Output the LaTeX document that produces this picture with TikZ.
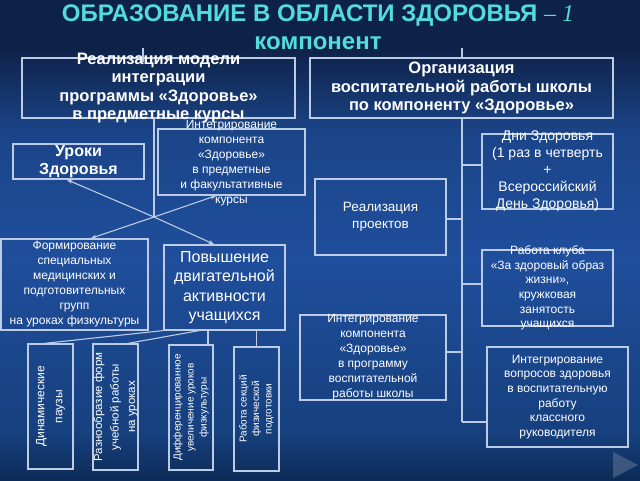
\documentclass[tikz,border=0pt]{standalone}
\usepackage{fontspec}
\setmainfont{Liberation Sans}
\newfontfamily\serifItalic{Liberation Serif}
\usetikzlibrary{arrows.meta}

\definecolor{bgTop}{HTML}{0E2248}
\definecolor{bgUpper}{HTML}{1B4589}
\definecolor{bgMid}{HTML}{1F4E9C}
\definecolor{bgLow}{HTML}{16407E}
\definecolor{bgBottom}{HTML}{0D2B58}
\definecolor{lineBlue}{HTML}{BCCCE4}
\definecolor{titleCyan}{HTML}{52DCDC}
\definecolor{navGray}{HTML}{5D7090}

\pgfdeclareverticalshading{bgShade}{100bp}{color(0bp)=(bgBottom); color(25bp)=(bgBottom);
  color(30bp)=(bgLow); color(48bp)=(bgMid); color(61bp)=(bgUpper); color(70bp)=(bgTop);
  color(75bp)=(bgTop); color(100bp)=(bgTop)}

\begin{document}
\begin{tikzpicture}
[x=1pt,y=-1pt,
  boxDecorate/.style={draw=lineBlue,line width=1.1pt,inner sep=0pt},
  lineDecorate/.style={draw=lineBlue,line width=1.1pt},
  arrowDecorate/.style={lineDecorate,-{Stealth[length=6pt,width=4pt]}},
  boldText/.style={text=white,align=center,font=\bfseries\fontsize{16.5}{18.5}\selectfont},
  plainText/.style={text=white,align=center,font=\fontsize{12}{15}\selectfont},
  titleText/.style={text=titleCyan,align=center,font=\bfseries\fontsize{24}{27.5}\selectfont}]
%% background
\shade[shading=bgShade] (0,0) rectangle (640,480);
\useasboundingbox (0,0) rectangle (640,480);
\fill[navGray,opacity=0.6] (613,452) -- (638,465) -- (613,478) -- cycle;

%% title
\node[titleText] (title) at (318,27)
  {ОБРАЗОВАНИЕ В ОБЛАСТИ ЗДОРОВЬЯ {\serifItalic\mdseries\itshape – 1}\\компонент};

%% left part
\node[boxDecorate,minimum width=273pt,minimum height=60pt,
  label={[boldText]center:{Реализация модели\\интеграции\\программы «Здоровье»\\в предметные курсы}}]
  (modelBox) at (158.5,88) {};
\node[boxDecorate,minimum width=147pt,minimum height=66pt,
  label={[plainText,yshift=-1.5pt]center:{Интегрирование\\компонента\\«Здоровье»\\в предметные\\и факультативные\\курсы}}]
  (subjBox) at (231.5,162) {};
\node[boxDecorate,minimum width=131pt,minimum height=35pt,
  label={[boldText,font=\bfseries\fontsize{16}{17.5}\selectfont]center:{Уроки\\Здоровья}}]
  (lessonBox) at (78.5,161.5) {};
\node[boxDecorate,minimum width=147pt,minimum height=91pt,
  label={[plainText]center:{Формирование\\специальных\\медицинских и\\подготовительных\\групп\\на уроках физкультуры}}]
  (groupBox) at (74.5,284.5) {};
\node[boxDecorate,minimum width=121pt,minimum height=85pt,
  label={[plainText,font=\fontsize{16}{19.5}\selectfont]center:{Повышение\\двигательной\\активности\\учащихся}}]
  (motionBox) at (224.5,287.5) {};

%% bottom row
\node[boxDecorate,minimum width=45pt,minimum height=125pt,
  label={[plainText,rotate=90,font=\fontsize{12}{18}\selectfont]center:{Динамические\\паузы}}]
  (pauseBox) at (50.5,406.5) {};
\node[boxDecorate,minimum width=45pt,minimum height=126pt,
  label={[plainText,rotate=90,font=\fontsize{11.5}{16.5}\selectfont]center:{Разнообразие форм\\учебной работы\\на уроках}}]
  (formBox) at (115.5,407) {};
\node[boxDecorate,minimum width=44pt,minimum height=125pt,
  label={[plainText,rotate=90,font=\fontsize{10}{13}\selectfont]center:{Дифференцированное\\увеличение уроков\\физкультуры}}]
  (diffBox) at (191,407.5) {};
\node[boxDecorate,minimum width=45pt,minimum height=124pt,
  label={[plainText,rotate=90,font=\fontsize{10}{12.5}\selectfont]center:{Работа секций\\физической\\подготовки}}]
  (sectionBox) at (256.5,409) {};

%% right part
\node[boxDecorate,minimum width=303pt,minimum height=60pt,
  label={[boldText]center:{Организация\\воспитательной работы школы\\по компоненту «Здоровье»}}]
  (orgBox) at (461.5,88) {};
\node[boxDecorate,minimum width=131pt,minimum height=76pt,
  label={[plainText,font=\fontsize{13.5}{17}\selectfont]center:{Реализация\\проектов}}]
  (projectBox) at (380.5,217) {};
\node[boxDecorate,minimum width=146pt,minimum height=85pt,
  label={[plainText]center:{Интегрирование\\компонента\\«Здоровье»\\в программу\\воспитательной\\работы школы}}]
  (programBox) at (373,357.5) {};
\node[boxDecorate,minimum width=131pt,minimum height=75pt,
  label={[plainText,font=\fontsize{14}{17}\selectfont]center:{Дни Здоровья\\(1 раз в четверть\\+\\Всероссийский\\День Здоровья)}}]
  (daysBox) at (547.5,171.5) {};
\node[boxDecorate,minimum width=131pt,minimum height=76pt,
  label={[plainText,font=\fontsize{12}{14.6}\selectfont]center:{Работа клуба\\«За здоровый образ\\жизни»,\\кружковая\\занятость\\учащихся}}]
  (clubBox) at (547.5,288) {};
\node[boxDecorate,minimum width=141pt,minimum height=100pt,
  label={[plainText,font=\fontsize{12}{14.6}\selectfont]center:{Интегрирование\\вопросов здоровья\\в воспитательную\\работу\\классного\\руководителя}}]
  (tutorBox) at (557.5,397) {};

%% connectors
\coordinate (modelTick) at (143,48);
\coordinate (orgTick) at (462,48);
\coordinate (hub) at (154,217);
\coordinate (trunkEnd) at (462,422);
\draw[lineDecorate] (modelTick) -- ++(0,14);
\draw[lineDecorate] (orgTick) -- (orgTick |- orgBox.north);
\draw[lineDecorate] (hub |- modelBox.south) -- (hub);
\draw[arrowDecorate] (hub) -- ([xshift=-12pt]lessonBox.south);
\draw[arrowDecorate] (hub) -- ([xshift=-10pt]motionBox.north);
\draw[arrowDecorate] (hub) -- ([xshift=-15pt]subjBox.south);
\draw[arrowDecorate] (hub) -- ([xshift=16pt]groupBox.north);

\draw[lineDecorate] (motionBox.south west) -- ([xshift=-7pt]pauseBox.north);
\draw[lineDecorate] ([xshift=-25pt]motionBox.south) -- ([xshift=12pt]formBox.north);
\draw[lineDecorate] ([xshift=17pt]diffBox.north) -- ([xshift=17pt]diffBox.north |- motionBox.south);
\draw[lineDecorate] (sectionBox.north) -- (sectionBox.north |- motionBox.south);

\draw[lineDecorate] (trunkEnd |- orgBox.south) -- (trunkEnd);
\foreach \boxname/\dy in {projectBox/-2, programBox/5.5}
  \draw[lineDecorate] ([yshift=\dy pt]\boxname.east) -- ([yshift=\dy pt]\boxname.east -| trunkEnd);
\foreach \boxname/\dy in {daysBox/6.5, clubBox/4}
  \draw[lineDecorate] ([yshift=\dy pt]\boxname.west) -- ([yshift=\dy pt]\boxname.west -| trunkEnd);
\draw[lineDecorate] (trunkEnd) -- (trunkEnd -| tutorBox.west);
\end{tikzpicture}
\end{document}
